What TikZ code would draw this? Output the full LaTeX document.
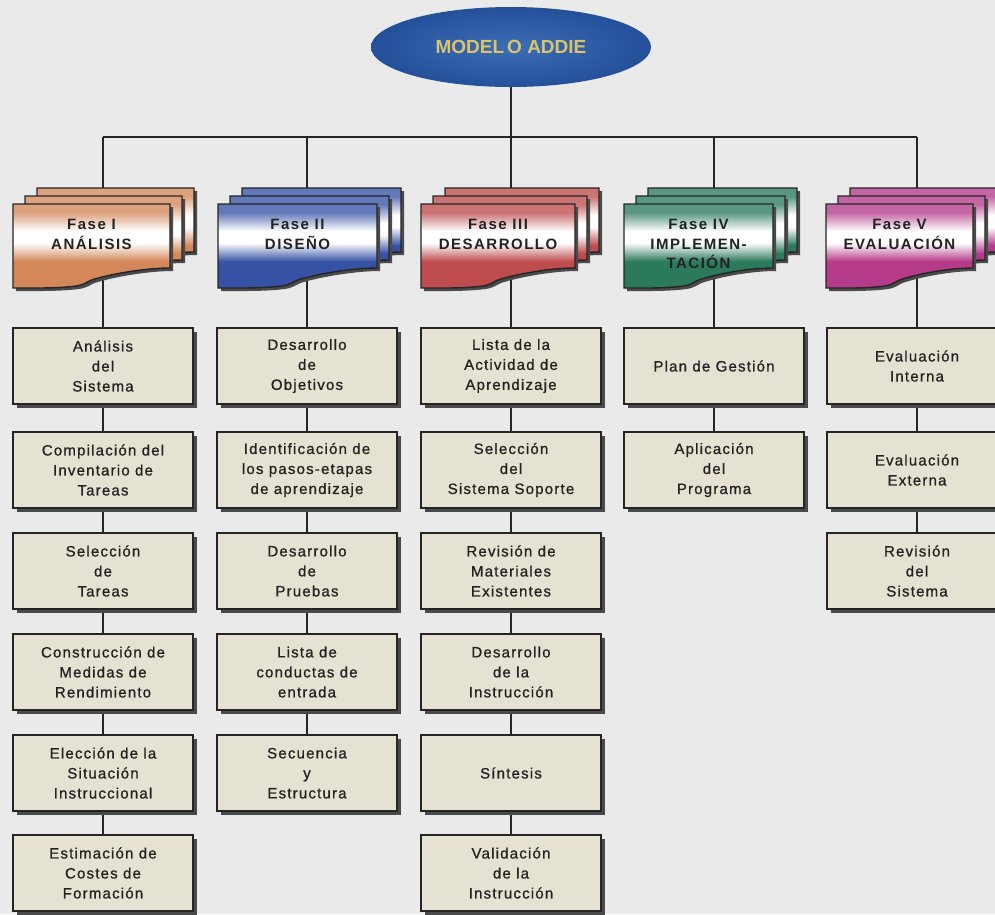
\documentclass[tikz,border=0pt]{standalone}
\usepackage{fontspec}
\setmainfont{Liberation Sans}
\newfontfamily\boxfont[LetterSpace=8,FakeBold=0.9]{Liberation Sans}
\newfontfamily\ttlfont[LetterSpace=10]{Liberation Sans}
\newfontfamily\rootfont{Liberation Sans}
\usetikzlibrary{shapes.geometric,shadows}
\pgfdeclarelayer{back}
\pgfdeclarelayer{wires}
\pgfsetlayers{back,wires,main}
\definecolor{bgc}{HTML}{EAEAEA}
\definecolor{linec}{HTML}{252525}
\definecolor{boxfill}{HTML}{E6E2D3}
\definecolor{shadowc}{HTML}{4A4A4A}
\definecolor{txtc}{HTML}{222222}
\definecolor{p1c}{HTML}{D4875A}
\definecolor{p2c}{HTML}{3552A5}
\definecolor{p3c}{HTML}{BE4B4D}
\definecolor{p4c}{HTML}{2B7A5C}
\definecolor{p5c}{HTML}{B53B8A}
\definecolor{elin}{HTML}{3C6DB5}
\definecolor{elout}{HTML}{24509A}
\definecolor{goldc}{HTML}{DCC46A}
\newcommand\mkcardshade[2]{%
  \pgfdeclareverticalshading{#1}{100bp}{color(0bp)=(#2); color(41bp)=(#2);
    color(52bp)=(white); color(59bp)=(white); color(70bp)=(#2!78!white);
    color(100bp)=(#2!78!white)}}
\mkcardshade{shp1}{p1c}
\mkcardshade{shp2}{p2c}
\mkcardshade{shp3}{p3c}
\mkcardshade{shp4}{p4c}
\mkcardshade{shp5}{p5c}
\def\cw{156}
\tikzset{
  cardp/.style={insert path={(0,0) -- (\cw,0) -- (\cw,64)
     .. controls ({\cw-25},64) and ({0.62*\cw},70) .. ({0.5*\cw},76)
     .. controls ({0.47*\cw},78) and ({0.45*\cw},81) .. ({0.4*\cw},82)
     .. controls ({0.28*\cw},84.5) and ({0.12*\cw},84) .. (0,84) -- cycle}},
  cardline/.style={draw=linec, line width=1.4pt},
  pics/card/.style 2 args={code={
     \def\cw{#2}
     \foreach \d in {24,12,0}{
       \begin{scope}[shift={(\d,-\d*2/3)}]
         \fill[shadowc, shift={(3,3)}, cardp];
         \shade[shading=#1, cardp];
         \draw[cardline, cardp];
       \end{scope}
     }
  }},
  cbox/.style={draw=linec, line width=1.4pt, fill=boxfill,
     minimum width=180pt, minimum height=76pt, inner sep=0pt,
     align=center, text=txtc,
     font=\boxfont\fontsize{15}{20}\selectfont,
     drop shadow={shadow xshift=4pt, shadow yshift=-4pt, fill=shadowc, opacity=1}},
  ttl/.style={anchor=north, inner sep=0pt, align=center, text=txtc,
     font=\ttlfont\bfseries\fontsize{15}{19.5}\selectfont},
  conn/.style={draw=linec, line width=1.8pt},
  bar/.style={draw=linec, line width=2.4pt}
}
\begin{document}
\begin{tikzpicture}[x=1pt,y=-1pt]
\useasboundingbox (0,0) rectangle (995,914);
\begin{pgfonlayer}{back}
\fill[bgc] (0,0) rectangle (995,914);
\end{pgfonlayer}
\clip (0,0) rectangle (995,914);

% root
\node[ellipse, minimum width=280pt, minimum height=80pt, inner sep=0pt,
      inner color=elin, outer color=elout, text=goldc,
      font=\rootfont\bfseries\fontsize{19}{22}\selectfont] (root) at (511,47)
      {MODEL\kern3pt O ADDIE};

% junctions
\coordinate (j1) at (103,137);
\coordinate (j2) at (307,137);
\coordinate (j3) at (511,137);
\coordinate (j4) at (714,137);
\coordinate (j5) at (917,137);
\foreach \i/\x in {1/103,2/307,3/511,4/714,5/917}{
  \coordinate (ci\i) at (\x,195);
  \coordinate (co\i) at (\x,270);
}

% phase cards
\pic at (13,204)  {card={shp1}{157}};
\pic at (218,204) {card={shp2}{159}};
\pic at (421,204) {card={shp3}{154}};
\pic at (624,204) {card={shp4}{149}};
\pic at (826,204) {card={shp5}{147}};

\node[ttl] (t1) at (91.5,219)  {Fase I\\ANÁLISIS};
\node[ttl] (t2) at (297.5,219) {Fase II\\DISEÑO};
\node[ttl] (t3) at (498,219)   {Fase III\\DESARROLLO};
\node[ttl] (t4) at (698.5,219) {Fase IV\\IMPLEMEN-\\TACIÓN};
\node[ttl] (t5) at (899.5,219) {Fase V\\EVALUACIÓN};

% column 1
\node[cbox] (b11) at (103,366) {Análisis\\del\\Sistema};
\node[cbox] (b12) at (103,470) {Compilación del\\Inventario de\\Tareas};
\node[cbox] (b13) at (103,571) {Selección\\de\\Tareas};
\node[cbox] (b14) at (103,672) {Construcción de\\Medidas de\\Rendimiento};
\node[cbox] (b15) at (103,773) {Elección de la\\Situación\\Instruccional};
\node[cbox] (b16) at (103,873) {Estimación de\\Costes de\\Formación};
% column 2
\node[cbox] (b21) at (307,366) {Desarrollo\\de\\Objetivos};
\node[cbox] (b22) at (307,470) {Identificación de\\los pasos-etapas\\de aprendizaje};
\node[cbox] (b23) at (307,571) {Desarrollo\\de\\Pruebas};
\node[cbox] (b24) at (307,672) {Lista de\\conductas de\\entrada};
\node[cbox] (b25) at (307,773) {Secuencia\\y\\Estructura};
% column 3
\node[cbox] (b31) at (511,366) {Lista de la\\Actividad de\\Aprendizaje};
\node[cbox] (b32) at (511,470) {Selección\\del\\Sistema Soporte};
\node[cbox] (b33) at (511,571) {Revisión de\\Materiales\\Existentes};
\node[cbox] (b34) at (511,672) {Desarrollo\\de la\\Instrucción};
\node[cbox] (b35) at (511,773) {Síntesis};
\node[cbox] (b36) at (511,873) {Validación\\de la\\Instrucción};
% column 4
\node[cbox] (b41) at (714,366) {Plan de Gestión};
\node[cbox] (b42) at (714,470) {Aplicación\\del\\Programa};
% column 5
\node[cbox] (b51) at (917,366) {Evaluación\\Interna};
\node[cbox] (b52) at (917,470) {Evaluación\\Externa};
\node[cbox] (b53) at (917,571) {Revisión\\del\\Sistema};

% connectors
\begin{pgfonlayer}{wires}
\draw[bar] (j1) -- (j5);
\draw[conn] (root.south) -- (j3);
\foreach \i in {1,...,5}{
  \draw[conn] (j\i) -- (ci\i);
  \draw[conn] (co\i) -- (b\i1.north);
}
\foreach \a/\b in {11/12,12/13,13/14,14/15,15/16,
                   21/22,22/23,23/24,24/25,
                   31/32,32/33,33/34,34/35,35/36,
                   41/42, 51/52,52/53}{
  \draw[conn] (b\a.south) -- (b\b.north);
}
\end{pgfonlayer}
\end{tikzpicture}
\end{document}
